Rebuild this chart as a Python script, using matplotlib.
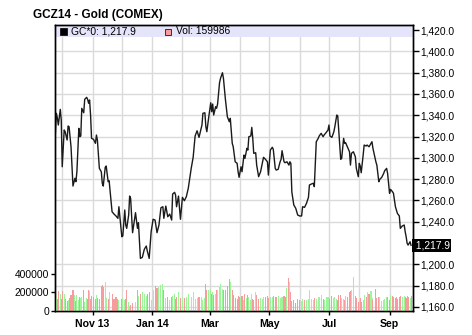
import numpy as np
import pandas as pd
import matplotlib
matplotlib.use("Agg")
import matplotlib.pyplot as plt
import matplotlib.dates as mdates
from matplotlib.patches import Rectangle
from matplotlib.ticker import FixedLocator, FuncFormatter

plt.rcParams['font.family'] = ['Liberation Sans', 'DejaVu Sans']

title = "GCZ14 - Gold (COMEX)"
last_label = "GC*0: 1,217.9"
vol_label = "Vol: 159986"
last_price = 1217.9

dates = [
    "2013-09-24", "2013-09-25", "2013-09-26", "2013-09-27", "2013-09-29", "2013-09-30",
    "2013-10-01", "2013-10-03", "2013-10-04", "2013-10-06", "2013-10-07", "2013-10-08",
    "2013-10-10", "2013-10-12", "2013-10-14", "2013-10-15", "2013-10-16", "2013-10-18",
    "2013-10-19", "2013-10-20", "2013-10-21", "2013-10-23", "2013-10-24", "2013-10-26",
    "2013-10-27", "2013-10-28", "2013-10-29", "2013-10-30", "2013-10-31",
    "2013-11-02", "2013-11-04", "2013-11-05", "2013-11-06", "2013-11-08", "2013-11-10",
    "2013-11-11", "2013-11-12", "2013-11-14", "2013-11-15", "2013-11-17", "2013-11-18",
    "2013-11-21", "2013-11-23", "2013-11-25", "2013-11-27", "2013-11-28",
    "2013-12-01", "2013-12-02", "2013-12-04", "2013-12-05", "2013-12-06", "2013-12-08",
    "2013-12-09", "2013-12-10", "2013-12-12", "2013-12-15", "2013-12-17", "2013-12-18",
    "2013-12-20", "2013-12-22", "2013-12-24", "2013-12-26", "2013-12-27", "2013-12-29",
    "2013-12-31",
    "2014-01-02", "2014-01-04", "2014-01-06", "2014-01-08", "2014-01-10", "2014-01-12",
    "2014-01-13", "2014-01-15", "2014-01-17", "2014-01-19", "2014-01-21", "2014-01-22",
    "2014-01-24", "2014-01-25", "2014-01-26", "2014-01-28", "2014-01-30",
    "2014-02-01", "2014-02-03", "2014-02-05", "2014-02-07", "2014-02-10", "2014-02-12",
    "2014-02-14", "2014-02-16", "2014-02-18", "2014-02-21", "2014-02-22", "2014-02-24",
    "2014-02-25", "2014-02-26", "2014-02-28",
    "2014-03-02", "2014-03-03", "2014-03-04", "2014-03-05", "2014-03-07", "2014-03-08",
    "2014-03-09", "2014-03-11", "2014-03-12", "2014-03-14", "2014-03-15", "2014-03-17",
    "2014-03-19", "2014-03-21", "2014-03-22", "2014-03-24", "2014-03-25", "2014-03-27",
    "2014-03-29", "2014-03-30", "2014-03-31",
    "2014-04-02", "2014-04-03", "2014-04-05", "2014-04-06", "2014-04-08", "2014-04-09",
    "2014-04-10", "2014-04-12", "2014-04-13", "2014-04-14", "2014-04-15", "2014-04-17",
    "2014-04-18", "2014-04-20", "2014-04-22", "2014-04-24", "2014-04-25", "2014-04-27",
    "2014-04-29", "2014-04-30",
    "2014-05-02", "2014-05-04", "2014-05-05", "2014-05-07", "2014-05-08", "2014-05-10",
    "2014-05-12", "2014-05-13", "2014-05-14", "2014-05-16", "2014-05-17", "2014-05-19",
    "2014-05-21", "2014-05-22", "2014-05-23", "2014-05-24", "2014-05-26", "2014-05-28",
    "2014-05-30",
    "2014-06-01", "2014-06-03", "2014-06-04", "2014-06-06", "2014-06-08", "2014-06-10",
    "2014-06-11", "2014-06-13", "2014-06-15", "2014-06-16", "2014-06-18", "2014-06-20",
    "2014-06-21", "2014-06-23", "2014-06-25", "2014-06-26", "2014-06-28", "2014-06-30",
    "2014-07-01", "2014-07-02", "2014-07-04", "2014-07-06", "2014-07-07", "2014-07-09",
    "2014-07-10", "2014-07-11", "2014-07-13", "2014-07-14", "2014-07-16", "2014-07-17",
    "2014-07-18", "2014-07-20", "2014-07-22", "2014-07-23", "2014-07-24", "2014-07-26",
    "2014-07-28", "2014-07-29", "2014-07-31",
    "2014-08-01", "2014-08-02", "2014-08-03", "2014-08-05", "2014-08-06", "2014-08-08",
    "2014-08-09", "2014-08-11", "2014-08-13", "2014-08-14", "2014-08-15", "2014-08-18",
    "2014-08-19", "2014-08-21", "2014-08-22", "2014-08-24", "2014-08-26", "2014-08-27",
    "2014-08-29", "2014-08-30",
    "2014-09-01", "2014-09-02", "2014-09-04", "2014-09-05", "2014-09-07", "2014-09-08",
    "2014-09-09", "2014-09-11", "2014-09-12", "2014-09-14", "2014-09-16", "2014-09-17",
    "2014-09-18", "2014-09-19", "2014-09-20", "2014-09-22", "2014-09-23",
]

close = [
    1323.0, 1341.8, 1337.4, 1330.8, 1345.5, 1335.5,
    1291.6, 1326.1, 1324.5, 1316.7, 1329.9, 1329.2, 1310.4, 1273.5, 1280.8, 1277.6,
    1286.9, 1327.7, 1319.8, 1320.5, 1346.5, 1342.3, 1354.9, 1356.8, 1354.9, 1351.2,
    1354.3, 1340.2, 1318.3,
    1317.4, 1313.6, 1321.4, 1316.7, 1290.1, 1286.9, 1276.1, 1273.5, 1291.1, 1292.3,
    1277.6, 1278.5, 1249.4, 1247.2, 1245.4, 1243.2, 1254.1,
    1225.9, 1226.6, 1251.0, 1236.9, 1233.8, 1246.3, 1264.1, 1262.0, 1229.7, 1248.5,
    1233.8, 1239.1, 1205.6, 1206.6, 1214.1, 1217.2, 1212.8, 1205.6, 1230.6,
    1242.3, 1241.6, 1229.7, 1236.9, 1253.1, 1254.1, 1243.2, 1254.7, 1244.7, 1247.2,
    1241.6, 1266.0, 1267.6, 1265.1, 1254.1, 1264.1, 1242.3,
    1262.9, 1259.7, 1263.5, 1271.4, 1290.1, 1300.5, 1320.5, 1325.4, 1319.2, 1330.8,
    1341.8, 1342.3, 1329.2, 1324.5, 1338.6,
    1351.7, 1343.3, 1350.5, 1340.2, 1348.0, 1346.5, 1350.5, 1370.5, 1374.6, 1379.9,
    1374.6, 1354.9, 1338.6, 1333.9, 1337.1, 1313.6, 1310.4, 1296.3, 1294.8, 1286.9,
    1281.7,
    1291.6, 1286.9, 1302.6, 1299.5, 1308.9, 1307.3, 1319.8, 1320.5, 1328.6, 1318.3,
    1304.2, 1304.8, 1293.2, 1282.3, 1286.9, 1296.3, 1300.5, 1298.6, 1296.3, 1283.8,
    1307.3, 1309.9, 1308.0, 1290.1, 1288.5, 1289.2, 1296.3, 1298.6, 1306.7, 1296.3,
    1295.4, 1296.3, 1293.2, 1296.3, 1294.8, 1267.9, 1255.7, 1252.6, 1246.3,
    1245.4, 1245.4, 1254.1, 1253.5, 1257.3, 1262.9, 1274.5, 1275.4, 1276.1, 1272.9,
    1315.1, 1318.3, 1320.5, 1323.0, 1319.8, 1321.4, 1323.6, 1326.1,
    1330.8, 1320.5, 1319.2, 1324.5, 1329.2, 1340.2, 1339.2, 1326.1, 1298.6, 1299.5,
    1318.3, 1313.6, 1314.2, 1309.9, 1305.7, 1293.2, 1304.2, 1305.7, 1301.0, 1290.1,
    1282.3,
    1294.8, 1292.3, 1286.0, 1302.6, 1312.0, 1311.1, 1312.0, 1310.4, 1313.6, 1315.1,
    1308.9, 1296.3, 1293.2, 1277.6, 1279.8, 1281.7, 1285.4, 1287.9, 1290.1, 1285.4,
    1266.7, 1270.4, 1268.2, 1266.7, 1254.1, 1251.0, 1247.9, 1245.4, 1233.8, 1236.0,
    1236.9, 1230.6, 1225.9, 1219.7, 1218.1, 1221.2, 1217.9,
]

# volume in thousands of contracts
volume_k = [
    178, 141, 130, 215, 189, 130,
    215, 189, 130, 104, 122, 141, 178, 222, 178, 104, 178, 115, 152, 137, 148, 226,
    93, 141, 130, 226, 215, 130, 160,
    152, 130, 178, 141, 130, 270, 278, 259, 318, 141, 130, 204, 189, 130, 152, 130, 122,
    130, 141, 122, 130, 226, 93, 59, 70, 85, 93, 226, 167, 189, 204, 189, 167, 189,
    204, 122,
    226, 270, 244, 259, 278, 289, 226, 141, 148, 122, 152, 167, 189, 130, 152, 204, 141,
    152, 141, 148, 189, 152, 204, 130, 141, 148, 152, 122, 141, 289, 226, 222,
    233, 189, 204, 178, 189, 226, 222, 259, 289, 233, 226, 222, 270, 344, 318, 226,
    178, 141, 130, 167, 152,
    141, 167, 122, 189, 141, 178, 152, 122, 189, 130, 122, 200, 178, 130, 141, 130,
    152, 152, 167, 141,
    152, 148, 167, 152, 148, 167, 141, 148, 152, 167, 152, 244, 356, 318, 200, 104,
    115, 85, 130,
    122, 104, 130, 122, 115, 130, 222, 130, 115, 141, 130, 148, 152, 178, 130, 122,
    148, 152,
    141, 130, 167, 141, 148, 130, 122, 178, 178, 141, 130, 122, 167, 148, 200, 211,
    230, 370, 167, 141, 93,
    122, 141, 93, 115, 178, 152, 204, 189, 211, 141, 122, 233, 141, 148, 152, 104,
    115, 130, 152, 148,
    122, 178, 167, 152, 141, 148, 130, 152, 167, 152, 159, 148, 141, 167, 148, 141, 160,
]

price_ticks = [1160, 1180, 1200, 1240, 1260, 1280, 1300, 1320, 1340, 1360, 1380, 1400, 1420]
vol_ticks = [0, 200000, 400000]
month_labels = {"2013-11-01": "Nov 13", "2014-01-01": "Jan 14", "2014-03-01": "Mar",
                "2014-05-01": "May", "2014-07-01": "Jul", "2014-09-01": "Sep"}

d = pd.to_datetime(dates)
px = np.array(close)
vol = np.array(volume_k) * 1000.0
up = np.r_[True, px[1:] >= px[:-1]]
bar_colors = np.where(up, "#9df59a", "#f79c9c")

W, H = 472, 335
fig = plt.figure(figsize=(W / 100, H / 100), dpi=100)
fig.set_facecolor("white")
ax = fig.add_axes([55 / W, 24 / H, 358 / W, 286 / H])
axv = ax.twinx()

# price axis (right)
ax.set_ylim(1156.2, 1424.7)
ax.set_xlim(mdates.date2num(pd.Timestamp("2013-09-24")) - 0.4,
            mdates.date2num(pd.Timestamp("2014-09-25")))
ax.yaxis.set_major_locator(FixedLocator(price_ticks))
ax.yaxis.set_major_formatter(FuncFormatter(lambda v, p: "{:,.1f}".format(v)))
ax.tick_params(axis="y", left=False, labelleft=False, right=True, labelright=True,
               length=4, width=1, pad=1.5, labelsize=7.4, colors="black")

# month grid and labels
ax.xaxis.set_minor_locator(mdates.MonthLocator())
ax.xaxis.set_major_locator(FixedLocator([mdates.date2num(pd.Timestamp(k)) for k in month_labels]))
ax.set_xticklabels(list(month_labels.values()), fontweight="bold")
ax.tick_params(axis="x", which="major", length=3, width=1, pad=3, labelsize=7.6)
ax.tick_params(axis="x", which="minor", length=0)
ax.grid(True, which="both", axis="x", color="#dadada", lw=1)
ax.grid(True, which="major", axis="y", color="#dadada", lw=1)
ax.set_axisbelow(True)

ax.plot(d, px, color="#1a1a1a", lw=1.0, zorder=3)

# legend band
ax.add_patch(Rectangle((0, (311 - 37) / 286), 1, 11 / 286, transform=ax.transAxes,
                       facecolor="#e4e4fa", edgecolor="none", zorder=2.5))
ax.add_patch(Rectangle((60 / W, 1 - 35 / H), 6.5 / W, 6.5 / H, transform=fig.transFigure,
                       facecolor="black", edgecolor="black", lw=0.5, zorder=4))
ax.add_patch(Rectangle((165 / W, 1 - 35 / H), 6 / W, 6 / H, transform=fig.transFigure,
                       facecolor="#f79c9c", edgecolor="#333333", lw=0.7, zorder=4))
fig.text(71 / W, 1 - 31.5 / H, last_label, fontsize=7.4, va="center", ha="left")
fig.text(176 / W, 1 - 31.5 / H, vol_label, fontsize=7.4, va="center", ha="left")

fig.text(33 / W, 1 - 15 / H, title, fontsize=8.5, fontweight="bold", va="center", ha="left")

# last value box
ax.text(1.0, last_price, " " + "{:,.1f}".format(last_price), transform=ax.get_yaxis_transform(),
        fontsize=7.4, color="white", va="center", ha="left", clip_on=False, zorder=6,
        bbox=dict(boxstyle="square,pad=0.12", facecolor="black", edgecolor="none"))

# volume axis (left)
axv.bar(d, vol, width=1.1, color=bar_colors, linewidth=0, zorder=2)
axv.set_ylim(0, 3.09e6)
axv.yaxis.set_major_locator(FixedLocator(vol_ticks))
axv.yaxis.set_major_formatter(FuncFormatter(lambda v, p: "%d" % v))
axv.yaxis.tick_left()
axv.tick_params(axis="y", length=3, width=1, pad=1, labelsize=7.4, colors="black")

for a in (ax, axv):
    for s in a.spines.values():
        s.set_color("black")
        s.set_linewidth(1)

fig.savefig("out.png", dpi=100, facecolor="white")
